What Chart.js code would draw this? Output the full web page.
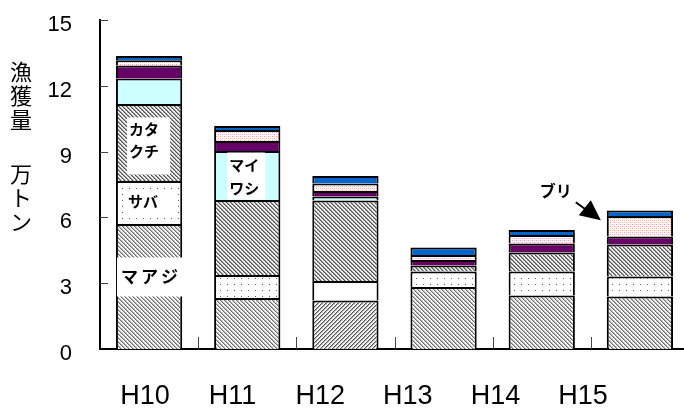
<!DOCTYPE html>
<html lang="ja">
<head>
<meta charset="utf-8">
<script src="https://cdn.jsdelivr.net/npm/chart.js@4/dist/chart.umd.min.js"></script>
<style>
  html, body { margin: 0; padding: 0; background: #fff; overflow: hidden; }
  #wrap { width: 700px; height: 410px; }
</style>
</head>
<body>
<div id="wrap"><canvas id="c"></canvas></div>
<script>
// 年度
const years = ['H10', 'H11', 'H12', 'H13', 'H14', 'H15'];
// 魚種別漁獲量（万トン）、下から積み上げ
const maaji     = [5.70, 2.33, 2.21, 2.83, 2.44, 2.39];
const saba      = [1.96, 1.04, 0.89, 0.70, 1.09, 0.92];
const katakuchi = [3.51, 3.42, 3.67, 0.28, 0.87, 1.46];
const maiwashi  = [1.16, 2.24, 0.18, 0.00, 0.00, 0.00];
const series5   = [0.60, 0.45, 0.25, 0.25, 0.41, 0.36];
const buri      = [0.23, 0.51, 0.35, 0.23, 0.39, 0.93];
const series7   = [0.20, 0.18, 0.34, 0.34, 0.23, 0.26];
// 縦軸目盛
const yTicks = [0, 3, 6, 9, 12, 15];
const yTitle = '漁獲量　万トン';

const canvas = document.getElementById('c');
const c2d = canvas.getContext('2d');

// small repeating fill patterns
function makePattern(w, h, bg, pixelFn) {
  const t = document.createElement('canvas');
  t.width = w; t.height = h;
  const g = t.getContext('2d');
  g.fillStyle = bg; g.fillRect(0, 0, w, h);
  for (let y = 0; y < h; y++) for (let x = 0; x < w; x++) {
    const col = pixelFn(x, y);
    if (col) { g.fillStyle = col; g.fillRect(x, y, 1, 1); }
  }
  return c2d.createPattern(t, 'repeat');
}
const hatchLight = makePattern(4, 4, '#ffffff', (x, y) => {
  const d = (x - y + 8) % 4;
  return d === 0 ? '#6e6e6e' : d === 1 ? '#b4b4b4' : (d === 2 && x % 2 === 0 ? '#dcdcdc' : null);
});
const hatchForward = makePattern(4, 4, '#ffffff', (x, y) => {
  const d = (x + y) % 4;
  return d === 0 ? '#555555' : d === 1 ? '#a8a8a8' : (d === 2 && x % 2 === 0 ? '#d4d4d4' : null);
});
const hatchDark = makePattern(4, 4, '#f4f4f4', (x, y) => {
  const d = (x - y + 8) % 4;
  return d === 0 ? '#4e4e4e' : d === 1 ? '#a0a0a0' : (d === 3 && y % 2 === 0 ? '#cccccc' : null);
});
const dots = makePattern(7, 6, '#ffffff', (x, y) => (x === 3 && y === 2) ? '#606060' : null);
const pinkDots = makePattern(4, 4, '#ffffff', (x, y) => {
  if ((x === 0 && y === 0) || (x === 2 && y === 2)) return '#ff9c9c';
  if ((x === 0 && y === 2) || (x === 2 && y === 0)) return '#ffd6d6';
  return null;
});

const latin = "'Liberation Sans', Arial, sans-serif";
const jp = "'Noto Sans CJK JP', sans-serif";

function ds(label, data, fill) {
  return {
    label, data, backgroundColor: fill,
    borderColor: '#000', borderWidth: 2, borderSkipped: 'start',
    categoryPercentage: 1, barPercentage: 0.675
  };
}

function jpText(ctx, s, x, y, size, spacing) {
  ctx.font = `bold ${size}px ${jp}`;
  ctx.fillStyle = '#000';
  ctx.textAlign = 'left';
  ctx.textBaseline = 'middle';
  ctx.letterSpacing = (spacing || 0) + 'px';
  ctx.fillText(s, x, y);
  ctx.letterSpacing = '0px';
}

const decor = {
  id: 'decor',
  afterDraw(chart) {
    const { ctx, chartArea: a, scales: { x, y } } = chart;
    ctx.save();

    // inward tick marks on both axes
    ctx.strokeStyle = '#444';
    ctx.lineWidth = 1;
    yTicks.forEach(v => {
      if (v === 0) return;
      const py = Math.round(y.getPixelForValue(v)) + 0.5;
      ctx.beginPath(); ctx.moveTo(a.left, py); ctx.lineTo(a.left + 8, py); ctx.stroke();
    });
    for (let i = 0; i < years.length - 1; i++) {
      const px = Math.round((x.getPixelForValue(i) + x.getPixelForValue(i + 1)) / 2) + 0.5;
      ctx.beginPath(); ctx.moveTo(px, a.bottom); ctx.lineTo(px, a.bottom - 12); ctx.stroke();
    }

    // vertical axis title, one character per row
    ctx.font = `22px ${jp}`;
    ctx.fillStyle = '#000';
    ctx.textAlign = 'center';
    ctx.textBaseline = 'middle';
    let ty = 72;
    for (const ch of yTitle) {
      if (ch === '　') { ty += 30; continue; }
      ctx.fillText(ch, 21, ty);
      ty += 24;
    }

    // in-bar species labels
    const seg = (d, i) => {
      const el = chart.getDatasetMeta(d).data[i];
      return { cx: el.x, left: el.x - el.width / 2, mid: (el.y + el.base) / 2 };
    };

    let s = seg(0, 0); // マアジ
    ctx.fillStyle = '#fff'; ctx.fillRect(s.left + 1, s.mid - 29, 66, 39);
    jpText(ctx, 'マアジ', s.left + 5, s.mid - 10, 17, 3);

    s = seg(1, 0); // サバ
    ctx.fillStyle = '#fff'; ctx.fillRect(s.left + 8, s.mid - 12, 50, 24);
    jpText(ctx, 'サバ', s.left + 12, s.mid - 1, 15, 0);

    s = seg(2, 0); // カタクチ
    ctx.fillStyle = '#fff'; ctx.fillRect(s.cx - 22, s.mid - 25, 43, 57);
    jpText(ctx, 'カタ', s.cx - 20, s.mid - 13, 15, 0);
    jpText(ctx, 'クチ', s.cx - 20, s.mid + 9, 15, 0);

    s = seg(3, 1); // マイワシ
    ctx.fillStyle = '#fff'; ctx.fillRect(s.cx - 20, s.mid - 23, 38, 47);
    jpText(ctx, 'マイ', s.cx - 18, s.mid - 10, 15, 0);
    jpText(ctx, 'ワシ', s.cx - 18, s.mid + 13, 15, 0);

    // ブリ label with arrow pointing at the H15 bar
    s = seg(5, 5);
    jpText(ctx, 'ブリ', s.left - 67, s.mid - 35, 16, 0);
    const tipX = s.left - 6, tipY = s.mid - 6;
    ctx.strokeStyle = '#000'; ctx.lineWidth = 2;
    ctx.beginPath(); ctx.moveTo(tipX - 25, tipY - 18); ctx.lineTo(tipX - 14, tipY - 10); ctx.stroke();
    ctx.fillStyle = '#000';
    ctx.beginPath();
    ctx.moveTo(tipX, tipY);
    ctx.lineTo(tipX - 22, tipY - 5);
    ctx.lineTo(tipX - 10, tipY - 20);
    ctx.closePath(); ctx.fill();

    ctx.restore();
  }
};

new Chart(canvas, {
  type: 'bar',
  data: {
    labels: years,
    datasets: [
      ds('マアジ', maaji, [hatchLight, hatchLight, hatchForward, hatchLight, hatchLight, hatchLight]),
      ds('サバ', saba, [dots, dots, '#ffffff', dots, dots, dots]),
      ds('カタクチ', katakuchi, hatchDark),
      ds('マイワシ', maiwashi, '#ccffff'),
      ds('系列5', series5, '#660066'),
      ds('ブリ', buri, pinkDots),
      ds('系列7', series7, '#0066cc')
    ]
  },
  options: {
    responsive: true,
    maintainAspectRatio: false,
    devicePixelRatio: 1,
    animation: false,
    layout: { padding: { top: 20, right: 11, left: 0, bottom: 0 } },
    plugins: { legend: { display: false }, tooltip: { enabled: false } },
    scales: {
      x: {
        stacked: true,
        grid: { display: false, drawTicks: false },
        border: { display: true, color: '#000', width: 2 },
        ticks: { display: false },
        afterFit: s => { s.height = 0; s.paddingLeft = 0; s.paddingRight = 0; }
      },
      xl: {
        type: 'linear', position: 'bottom',
        offset: false, bounds: 'data',
        min: -0.514, max: 6.21,
        grid: { display: false, drawTicks: false, offset: false },
        border: { display: false },
        afterBuildTicks: s => { s.ticks = years.map((_, i) => ({ value: i })); },
        ticks: {
          callback: v => years[v],
          color: '#000', padding: 31, maxRotation: 0, autoSkip: false,
          font: { family: latin, size: 27 }
        },
        afterFit: s => { s.height = 61; s.paddingLeft = 0; s.paddingRight = 0; }
      },
      y: {
        stacked: true,
        min: 0, max: 15,
        grid: { display: false, drawTicks: false },
        border: { display: true, color: '#000', width: 2 },
        afterBuildTicks: s => { s.ticks = yTicks.map(v => ({ value: v })); },
        ticks: {
          color: '#000', padding: 28, labelOffset: 5,
          font: { family: latin, size: 22 }
        },
        afterFit: s => { s.width = 100; s.paddingTop = 0; s.paddingBottom = 0; }
      }
    }
  },
  plugins: [decor]
});
</script>
</body>
</html>
